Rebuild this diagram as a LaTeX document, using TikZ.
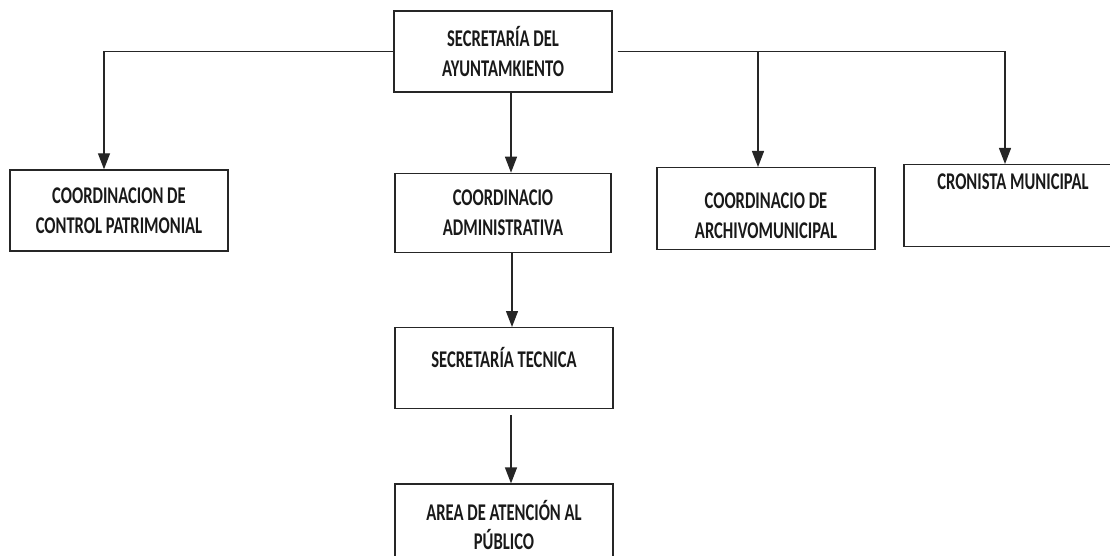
\documentclass[tikz,border=0pt]{standalone}
\usepackage{fontspec}
\setmainfont{Carlito}[FakeStretch=0.69]
\usetikzlibrary{arrows.meta,positioning}

\begin{document}
\begin{tikzpicture}[
  x=1pt, y=-1pt,
  font=\fontsize{24}{29.5}\selectfont\bfseries,
  box/.style ={draw=black!85,line width=1.4pt,align=center,text=black!90,
               minimum width=218pt,minimum height=81pt,inner sep=0pt},
  link/.style={draw=black!85,line width=1.3pt},
  >={Triangle[length=16pt,width=12pt]}]

\useasboundingbox (0,0) rectangle (1110,556);

%---------------- top ----------------
\node[box] (sec) at (503,51.5) {SECRETARÍA DEL\\AYUNTAMKIENTO};

%---------------- first level ----------------
\node[box] (ctrl) at (119,210.5) {COORDINACION DE\\CONTROL PATRIMONIAL};
\node[box, below=80pt of sec, minimum width=216pt, minimum height=79pt] (adm)
  {COORDINACIO\\ADMINISTRATIVA};
\node[box, anchor=north, text height=70.5pt, text depth=11.5pt] (arch) at (766,167)
  {COORDINACIO DE\\ARCHIVOMUNICIPAL};
\node[box, anchor=north, text height=25pt, text depth=57pt] (cron) at (1013,164)
  {CRONISTA MUNICIPAL};

%---------------- column below ----------------
\node[box, anchor=north, text height=38pt, text depth=39pt] (tec) at (504,327)
  {SECRETARÍA TECNICA};
\node[box, below=74pt of tec, minimum height=82pt] (area)
  {AREA DE ATENCIÓN AL\\PÚBLICO};

%---------------- connectors ----------------
\draw[link,->] (sec.west) -| ([xshift=-15pt]ctrl.north);
\draw[link,->] ([xshift=5pt]sec.east) -| ([xshift=-8pt]arch.north);
\draw[link,->] ([xshift=5pt]sec.east) -| ([xshift=-8pt]cron.north);
\draw[link,->] ([xshift=8pt]sec.south) -- ([xshift=8pt]sec.south |- adm.north);
\draw[link,->] ([xshift=9pt]adm.south) -- ([xshift=9pt]adm.south |- tec.north);
\draw[link,->] ([xshift=7pt,yshift=-6pt]tec.south) -- ([xshift=7pt]tec.south |- area.north);

\end{tikzpicture}
\end{document}
